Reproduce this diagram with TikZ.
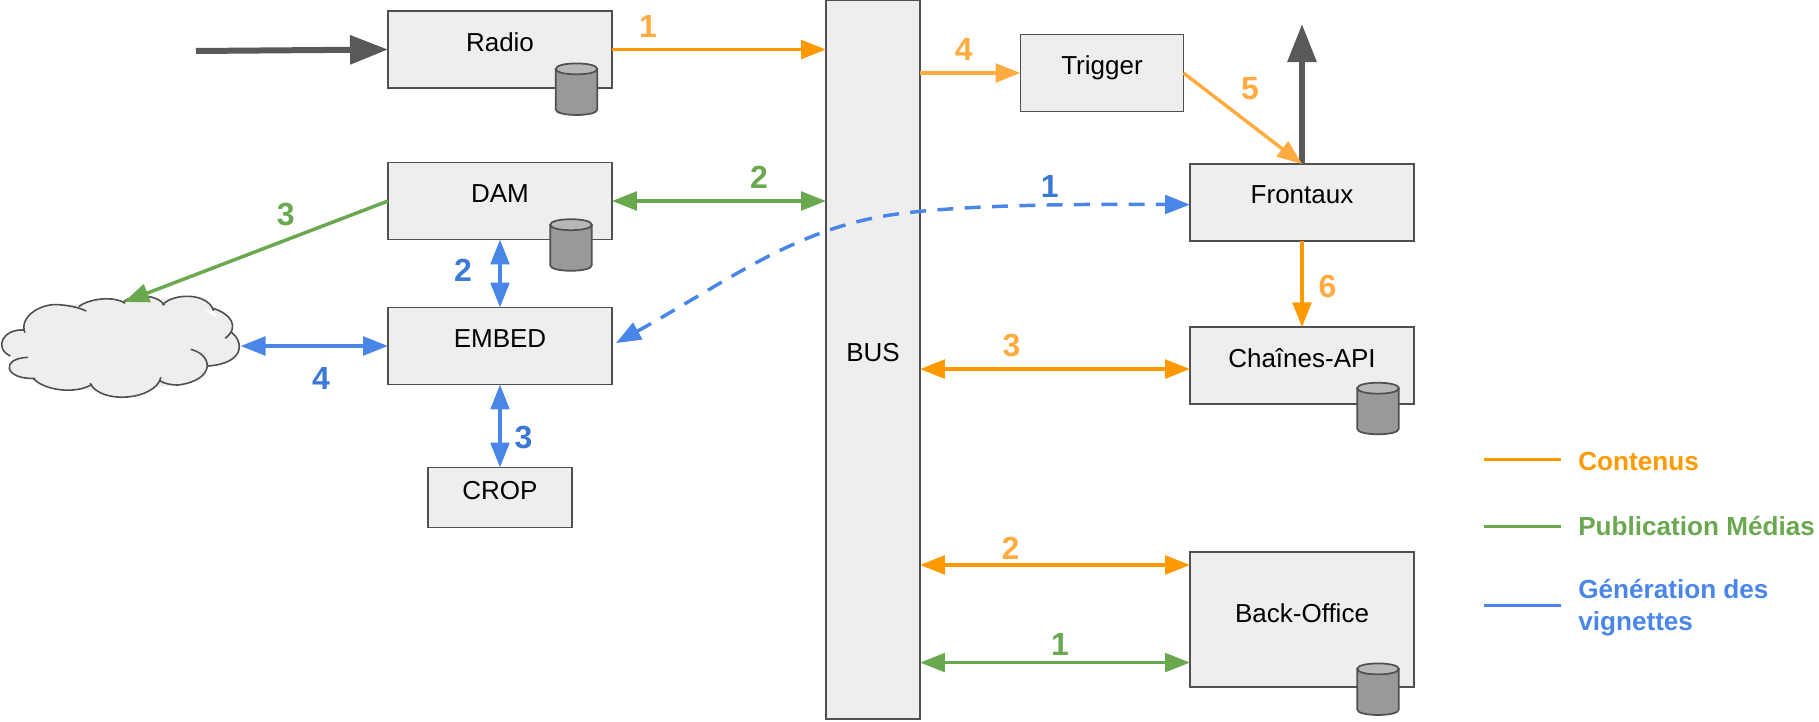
\documentclass[tikz,border=0pt]{standalone}
\usepackage{fontspec}
\setmainfont{Liberation Sans}
\usetikzlibrary{arrows.meta}
\definecolor{boxfill}{HTML}{EEEEEE}
\definecolor{boxline}{HTML}{505050}
\definecolor{arrowgrey}{HTML}{595959}
\definecolor{orA}{HTML}{FF9900}
\definecolor{orB}{HTML}{FFAB40}
\definecolor{grA}{HTML}{6AA84F}
\definecolor{blA}{HTML}{4A86E8}
\definecolor{blB}{HTML}{3C78D8}
\definecolor{cylbody}{HTML}{999999}
\definecolor{cyltop}{HTML}{B7B7B7}
\newcommand{\cloudarcs}[1]{%
  #1 (60,548) .. controls (45,500) and (100,455) .. (150,465) .. controls (175,468) and (195,475) .. (208,483);
  #1 (190,470) .. controls (215,445) and (275,437) .. (302,460);
  #1 (298,455) .. controls (320,432) and (375,430) .. (397,465);
  #1 (392,465) .. controls (415,430) and (500,425) .. (515,482);
  #1 (513,475) .. controls (555,490) and (580,530) .. (543,565);
  #1 (556,545) .. controls (590,575) and (590,640) .. (502,648);
  #1 (460,598) .. controls (515,615) and (520,690) .. (430,705) .. controls (410,705) and (395,700) .. (385,692);
  #1 (388,682) .. controls (375,750) and (245,765) .. (217,700);
  #1 (222,703) .. controls (180,735) and (105,720) .. (80,685);
  #1 (85,685) .. controls (10,690) and (0,625) .. (67,622);
  #1 (25,618) .. controls (-15,595) and (5,535) .. (60,540);
}
\tikzset{
  sysbox/.style n args={4}{draw=boxline, fill=boxfill, line width=1.4pt, inner sep=0pt, outer sep=0pt,
    minimum width=#1*0.75pt, minimum height=#2*0.75pt, text height=#3*0.75pt, text depth=#4*0.75pt,
    font=\fontsize{19.5pt}{23pt}\selectfont, text=black},
  dbcyl/.pic={
    \draw[boxline,fill=cylbody,line width=1.3pt] (-20.75,-20.3) -- (-20.75,20.3) .. controls (-20.75,27.6) and (20.75,27.6) .. (20.75,20.3) -- (20.75,-20.3) -- cycle;
    \draw[boxline,fill=cyltop,line width=1.3pt] (-20.75,-20.3) .. controls (-20.75,-27.6) and (20.75,-27.6) .. (20.75,-20.3) .. controls (20.75,-13) and (-20.75,-13) .. cycle;
  },
  num/.style={font=\fontsize{24pt}{28pt}\selectfont\bfseries, inner sep=0pt},
  legtext/.style={font=\fontsize{19.6pt}{24pt}\selectfont\bfseries, inner sep=0pt, anchor=west, align=left},
  legline/.style={line width=2.6pt},
  link/.style={line width=2.6pt, -{Triangle[length=18.7pt,width=14pt]}},
  linkboth/.style={line width=2.6pt, {Triangle[length=18.7pt,width=14pt]}-{Triangle[length=18.7pt,width=14pt]}},
  heavy/.style={line width=4.5pt, draw=arrowgrey, -{Triangle[length=28.5pt,width=21pt]}},
}
\begin{document}
\begin{tikzpicture}[x=0.75pt,y=-0.75pt]
\useasboundingbox (0,0) rectangle (1819,721);
% cloud
\node[inner sep=0pt, minimum width=179pt, minimum height=76pt] (cloud) at (121,346) {};
\begin{scope}[shift={(0,150)},x=0.311pt,y=-0.25pt]
  \fill[boxfill] (60,545) -- (150,465) -- (300,455) -- (450,440) -- (540,520) -- (565,600) -- (440,700) -- (300,730) -- (170,715) -- (40,670) -- (20,590) -- cycle;
  \cloudarcs{\fill[boxfill]}
  \cloudarcs{\draw[boxline,line width=1.2pt]}
\end{scope}
% boxes
\node[sysbox={224}{77}{40}{37}] (radio) at (500,49.5) {Radio};
\node[sysbox={224}{77}{40}{37}] (dam) at (500,201) {DAM};
\node[sysbox={224}{77}{40}{37}] (embed) at (500,346) {EMBED};
\node[sysbox={144}{60}{32}{28}] (crop) at (500,497.5) {CROP};
\node[sysbox={94}{719}{361}{358}] (bus) at (873,359.5) {BUS};
\node[sysbox={163}{77}{40}{37}] (trigger) at (1102,73) {Trigger};
\node[sysbox={224}{77}{39}{38}] (frontaux) at (1302,202.5) {Frontaux};
\node[sysbox={224}{77}{40}{37}] (chaines) at (1302,365.7) {Chaînes-API};
\node[sysbox={224}{135}{70}{65}] (backoffice) at (1302,619.5) {Back-Office};
% database cylinders
\pic (dbradio) at (576.5,89.2) {dbcyl};
\pic (dbdam) at (571,245) {dbcyl};
\pic (dbchaines) at (1378,408.5) {dbcyl};
\pic (dbback) at (1378,689.2) {dbcyl};
% free ends
\coordinate (inflow) at (196,51);
\coordinate (outflow) at (1302,24);
\coordinate (cloudtop) at (124,302);
% connectors
\draw[heavy] (inflow) -- (radio.west);
\draw[heavy] (frontaux.north) -- (outflow);
\draw[link,draw=orA] (radio.east) -- (bus.west |- radio.east);
\draw[linkboth,draw=grA] (dam.east) -- (bus.west |- dam.east);
\draw[link,draw=grA] (dam.west) -- (cloudtop);
\draw[linkboth,draw=blA] (dam.south) -- (embed.north);
\draw[linkboth,draw=blA] (embed.south) -- (crop.north);
\draw[linkboth,draw=blA] (cloud.east) -- (embed.west);
\draw[link,draw=orB] (bus.east |- trigger.west) -- (trigger.west);
\draw[link,draw=orB] (trigger.east) -- (frontaux.north);
\draw[link,draw=orA] (frontaux.south) -- (chaines.north);
\draw[linkboth,draw=orA] ([yshift=-2.5pt]bus.east |- chaines.west) -- ([yshift=-2.5pt]chaines.west);
\draw[linkboth,draw=orA] ([yshift=40.9pt]bus.east |- backoffice.west) -- ([yshift=40.9pt]backoffice.west);
\draw[linkboth,draw=grA] ([yshift=-32.3pt]bus.east |- backoffice.west) -- ([yshift=-32.3pt]backoffice.west);
\draw[linkboth,draw=blA,dash pattern=on 12pt off 8.5pt] ([xshift=3pt,yshift=2.2pt]embed.east) .. controls (735,277) and (800,225) .. (905,213) .. controls (980,204) and (1100,204) .. ([yshift=-1.6pt]frontaux.west);
% numbers
\node[num,text=orB] (n1) at (648,26) {1};
\node[num,text=grA] (n2) at (759,177) {2};
\node[num,text=grA] (n3) at (285.7,215) {3};
\node[num,text=blB] (n4) at (463,270) {2};
\node[num,text=blB] (n5) at (321,378) {4};
\node[num,text=blB] (n6) at (523.6,438) {3};
\node[num,text=orB] (n7) at (963.8,49) {4};
\node[num,text=orB] (n8) at (1250,89) {5};
\node[num,text=blB] (n9) at (1049.8,186) {1};
\node[num,text=orB] (n10) at (1327.6,286) {6};
\node[num,text=orB] (n11) at (1011.5,346) {3};
\node[num,text=orB] (n12) at (1010.5,548) {2};
\node[num,text=grA] (n13) at (1060,644) {1};
% legend
\node[legtext,text=orA] (lgA) at (1578,461) {Contenus};
\node[legtext,text=grA] (lgB) at (1578,526.5) {Publication Médias};
\node[legtext,text=blA] (lgC) at (1578,608) {Génération des\\vignettes};
\coordinate (lgAs) at (1484,459.7);
\coordinate (lgBs) at (1484,526.7);
\coordinate (lgCs) at (1484,605.3);
\coordinate (lgAe) at (1561,459.7);
\coordinate (lgBe) at (1561,526.7);
\coordinate (lgCe) at (1561,605.3);
\draw[legline,orA] (lgAs) -- (lgAe);
\draw[legline,grA] (lgBs) -- (lgBe);
\draw[legline,blA] (lgCs) -- (lgCe);
\end{tikzpicture}
\end{document}
